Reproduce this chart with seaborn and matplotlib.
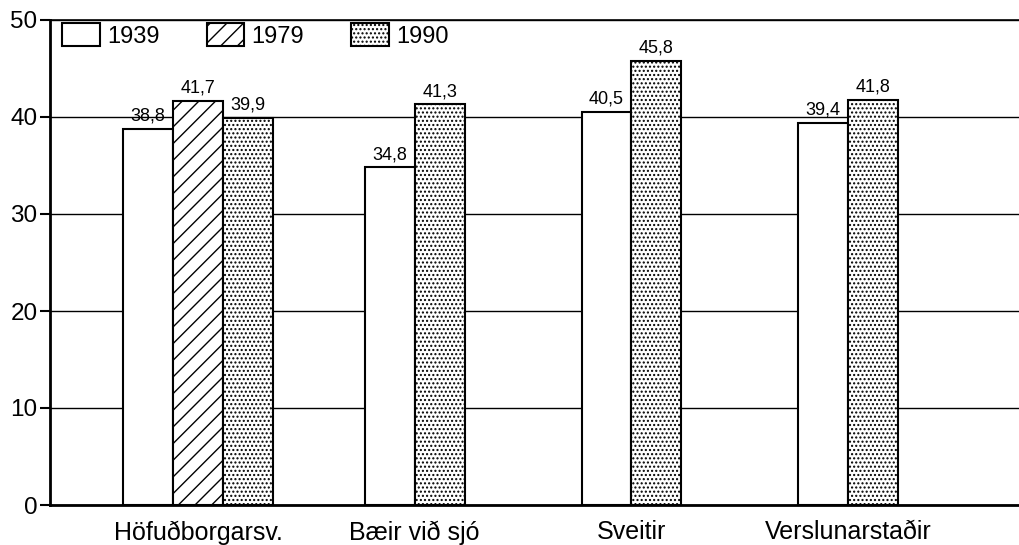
import pandas as pd
import matplotlib.pyplot as plt
import seaborn as sns
from matplotlib.patches import Patch

# Data (None = no bar)
regions = ['Höfuðborgarsv.', 'Bæir við sjó', 'Sveitir', 'Verslunarstaðir']
years = ['1939', '1979', '1990']
values_1939 = [38.8, 34.8, 40.5, 39.4]
values_1979 = [41.7, None, None, None]
values_1990 = [39.9, 41.3, 45.8, 41.8]
hatches = ['', '//', '....']

sns.set_theme(style="white")
plt.rcParams['font.family'] = ['Liberation Sans', 'DejaVu Sans']
plt.rcParams['text.color'] = 'black'
plt.rcParams['xtick.color'] = 'black'
plt.rcParams['ytick.color'] = 'black'
plt.rcParams['hatch.linewidth'] = 1.0
plt.rcParams['hatch.color'] = 'black'

# Long table; bars in a group sit side by side, centred on the group
bar_w = 0.23
rows = []
series = dict(zip(years, [values_1939, values_1979, values_1990]))
for i, region in enumerate(regions):
    present = [(y, series[y][i]) for y in years if series[y][i] is not None]
    n = len(present)
    for k, (y, v) in enumerate(present):
        rows.append({'region': region, 'year': y, 'value': v,
                     'pos': round(i + (k - (n - 1) / 2) * bar_w, 4)})
df = pd.DataFrame(rows)

fig = plt.figure(figsize=(10.19, 5.45), dpi=100)
ax = fig.add_axes([50 / 1019, 40 / 545, 969 / 1019, 485 / 545])

sns.barplot(data=df, x='pos', y='value', hue='year', hue_order=years,
            native_scale=True, dodge=False, width=1.0,
            palette={y: 'white' for y in years}, edgecolor='black',
            linewidth=1.5, legend=False, ax=ax, zorder=3)

for cont, h in zip(ax.containers, hatches):
    for bar in cont:
        bar.set_hatch(h)
    ax.bar_label(cont, fmt=lambda v: f"{v:.1f}".replace('.', ','),
                 padding=3, fontsize=13, color='black')

ax.set_ylim(0, 50)
ax.set_xlim(-0.683, 3.789)
ax.set_yticks([0, 10, 20, 30, 40, 50])
ax.set_xticks(range(len(regions)))
ax.set_xticklabels(regions, fontsize=18)
ax.tick_params(axis='y', labelsize=17.5, left=True, length=7, width=1.5,
               direction='out', pad=2, color='black', labelcolor='black')
ax.tick_params(axis='x', bottom=False, pad=5, labelcolor='black')
ax.set_xlabel('')
ax.set_ylabel('')

ax.yaxis.grid(True, color='black', linewidth=1.0)
ax.set_axisbelow(True)
for side in ['left', 'bottom']:
    ax.spines[side].set_color('black')
    ax.spines[side].set_linewidth(2)
ax.spines['top'].set_color('black')
ax.spines['top'].set_linewidth(1.2)
ax.spines['right'].set_visible(False)

handles = [Patch(facecolor='white', edgecolor='black', linewidth=1.5, hatch=h)
           for h in hatches]
ax.legend(handles, years, loc='upper left', bbox_to_anchor=(12 / 969, 0.993),
          ncol=3, frameon=False, fontsize=17, handlelength=1.6,
          handleheight=1.1, handletextpad=0.3, columnspacing=2.0,
          borderpad=0, borderaxespad=0, labelcolor='black')

fig.savefig('out.png', dpi=100)
